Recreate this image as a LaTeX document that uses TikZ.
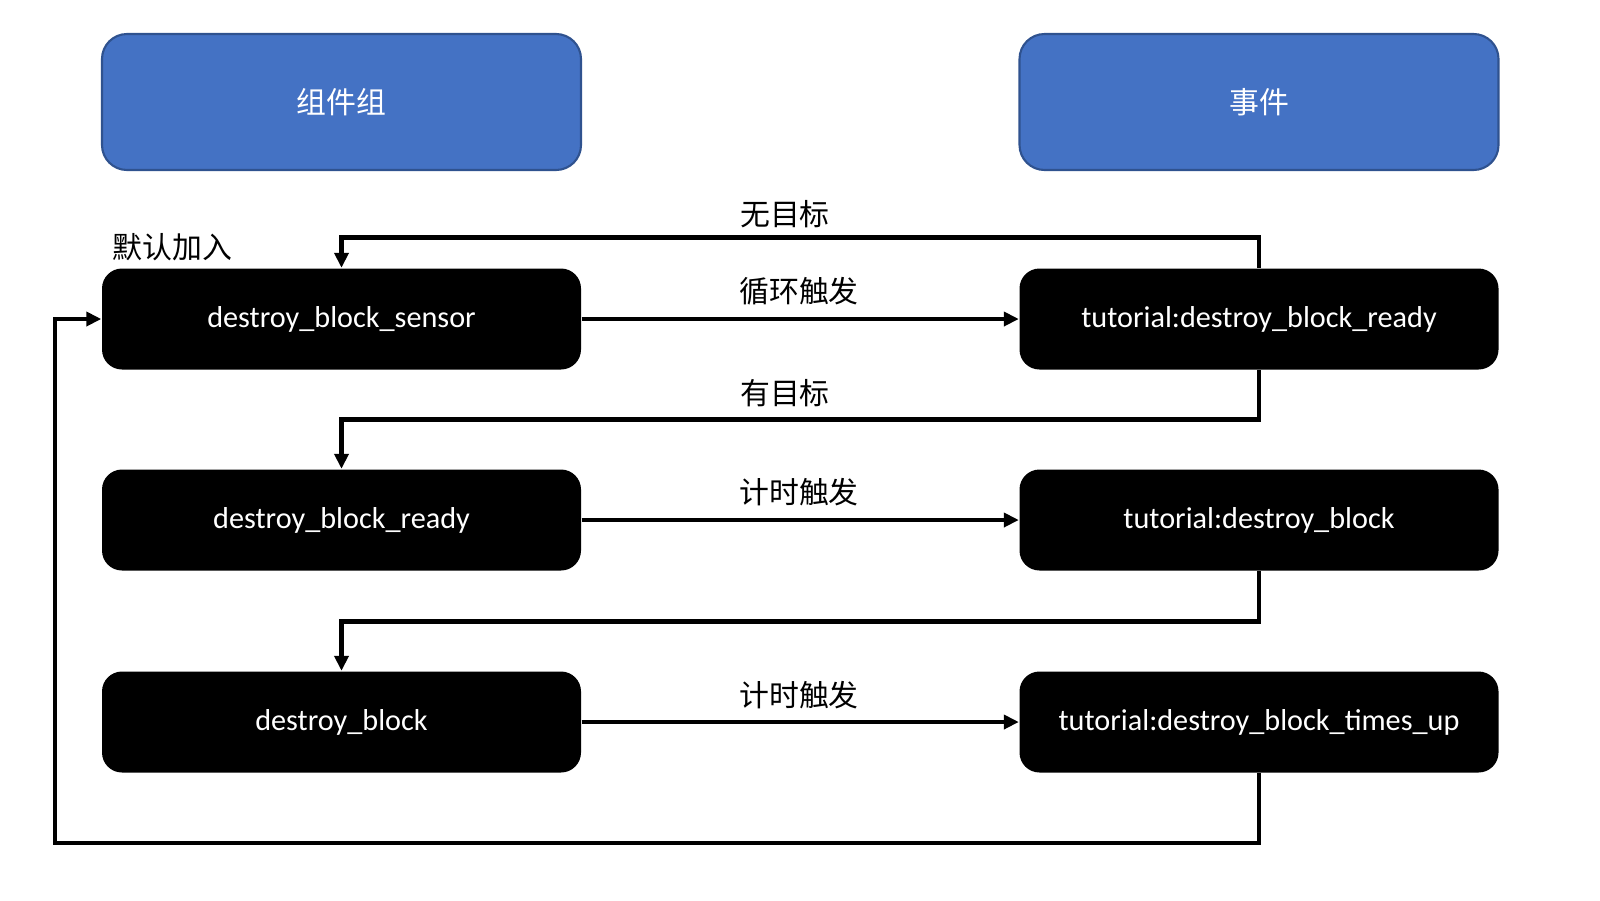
\documentclass[tikz,border=0pt]{standalone}
\usepackage{fontspec}
\setmainfont{Carlito}
\newfontfamily\cjk{Noto Sans CJK SC}
\usepackage{tikz}
\usetikzlibrary{arrows.meta}
\definecolor{headblue}{HTML}{4472C4}
\definecolor{headline}{HTML}{2F528F}
\tikzset{
  head/.style = {draw=headline, line width=0.6pt, fill=headblue, rounded corners=0.25cm,
    minimum width=4.79cm, minimum height=1.36cm, text=white, font=\cjk\fontsize{8.5}{10}\selectfont},
  state/.style = {fill=black, rounded corners=0.2cm, minimum width=4.79cm, minimum height=1.01cm,
    text=white, font=\fontsize{8.6}{10}\selectfont},
  flow/.style = {line width=1.4pt, -{Triangle[length=1.5mm,width=1.4mm]}},
  lbl/.style = {font=\cjk\fontsize{8.5}{10}\selectfont}
}

\begin{document}
\begin{tikzpicture}[scale=1]
  \useasboundingbox (0,0) rectangle (16,-9);

  \node (grp) at (3.415,-1.02) [head] {组件组};
  \node (evt) at (12.59,-1.02) [head] {事件};

  \node (sensor) at (3.415,-3.19) [state] {destroy\_block\_sensor};
  \node (ready)  at (3.415,-5.20) [state] {destroy\_block\_ready};
  \node (block)  at (3.415,-7.22) [state] {destroy\_block};

  \node (tready) at (12.59,-3.19) [state] {tutorial:destroy\_block\_ready};
  \node (tblock) at (12.59,-5.20) [state] {tutorial:destroy\_block};
  \node (ttimes) at (12.59,-7.22) [state] {tutorial:destroy\_block\_times\_up};

  \coordinate (back) at (0.55,-8.43);

  \draw[flow] (sensor.east) -- (tready.west);
  \draw[flow] (ready.east) -- (tblock.west);
  \draw[flow] (block.east) -- (ttimes.west);

  \draw[flow] (tready.north) -- ++(0,0.30) -| (sensor.north);
  \draw[flow] (tready.south) -- ++(0,-0.49) -| (ready.north);
  \draw[flow] (tblock.south) -- ++(0,-0.50) -| (block.north);
  \draw[flow] (ttimes.south) |- (back) |- (sensor.west);

  \node (init) at (1.0,-2.47) [lbl, anchor=west] {默认加入};
  \node (none) at (7.85,-2.14) [lbl] {无目标};
  \node (loop) at (7.99,-2.91) [lbl] {循环触发};
  \node (has)  at (7.85,-3.93) [lbl] {有目标};
  \node (tim1) at (7.99,-4.92) [lbl] {计时触发};
  \node (tim2) at (7.99,-6.95) [lbl] {计时触发};
\end{tikzpicture}
\end{document}
